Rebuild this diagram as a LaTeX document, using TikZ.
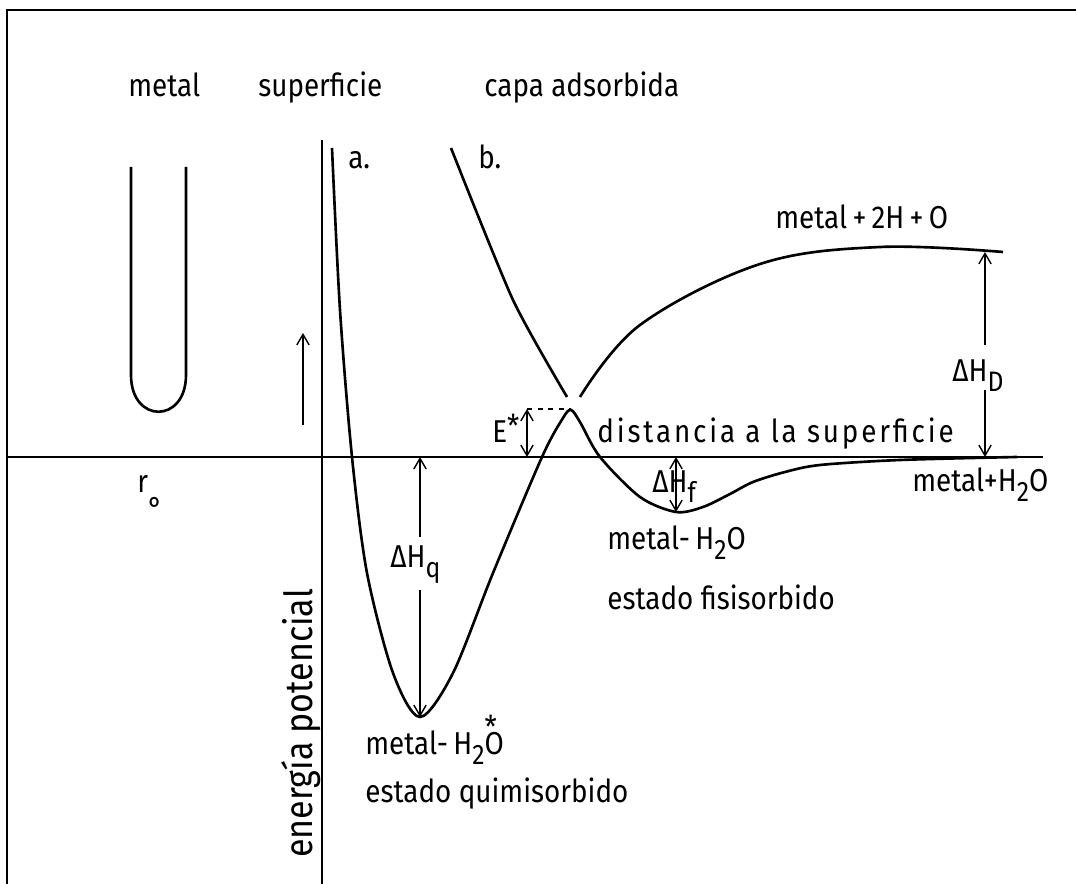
\documentclass[tikz,border=0pt]{standalone}
\usepackage{fontspec}
\setmainfont{Fira Sans}[FakeStretch=0.88]
\usetikzlibrary{arrows.meta}
\newcommand\lowsub[1]{\raisebox{-0.6ex}[0pt][0pt]{\fontsize{16}{16}\selectfont #1}}
\begin{document}
\begin{tikzpicture}[x=0.02cm,y=-0.02cm,every node/.style={inner sep=0pt,anchor=base west,font=\fontsize{18}{22}\selectfont},curve/.style={line width=1.5pt},axis/.style={line width=1.1pt},dim/.style={line width=0.8pt,>={Straight Barb[length=6pt,width=7pt]}}]
\useasboundingbox (0,0) rectangle (1076,884);
\draw[axis] (7,884) -- (7,10) -- (1076,10);
\draw[axis] (7,457) -- (1043,457);
\draw[axis] (322,140) -- (322,884);
\draw[curve] (131,167) -- (131,375) .. controls (131,424) and (186,424) .. (186,375) -- (186,167);
\draw[dim,->] (303,425) -- (303,333);
\draw[curve] plot[smooth,tension=0.5] coordinates {(332,148) (340,310) (352,457) (367,573) (393,673) (420,717) (453,673) (493,573) (542,457) (563,418) (571,410) (580,422) (600,457) (640,497) (676,512) (703,507) (730,494) (753,482) (785,472) (820,465) (900,460) (1017,457)};
\draw[curve] plot[smooth,tension=0.4] coordinates {(451,148) (513,300) (567,397)};
\draw[curve] plot[smooth,tension=0.6] coordinates {(580,397) (640,325) (760,264) (880,247) (1003,252)};
\node (metal) at (128,97) {metal};
\node (superficie) at (258,97) {superficie};
\node (capa) at (484,97) {capa adsorbida};
\node (a) at (348,169) {a.};
\node (b) at (478,169) {b.};
\node (r0) at (137,493) {r\raisebox{-15pt}[0pt][0pt]{°}};
\node[font=\fontsize{18}{22}\selectfont\addfontfeature{LetterSpace=9}] (dist) at (597,443) {distancia a la superficie};
\node (m2HO) at (775,229) {metal\,+\,2H\,+\,O};
\node (mH2O) at (912,492) {metal+H\lowsub{2}O};
\node (dHD) at (952,382) {ΔH\lowsub{D}};
\node (dHf) at (652,493) {ΔH\lowsub{f}};
\node (dHq) at (390,568) {ΔH\lowsub{q}};
\node (Estar) at (492,443) {E\raisebox{0.3ex}[0pt][0pt]{*}};
\node (fisi) at (607,550) {metal-\,H\lowsub{2}O};
\node (fisiest) at (607,610) {estado fisisorbido};
\node (quimi) at (365,755) {metal-\,H\lowsub{2}\rlap{\raisebox{1.0ex}[0pt][0pt]{*}}O};
\node (quimiest) at (365,803) {estado quimisorbido};
\node[rotate=90,font=\fontsize{22}{26}\selectfont] (energia) at (312,858) {energía potencial};
\coordinate (Dtop) at (985,252);
\coordinate (Dbot) at (985,457);
\coordinate (qtop) at (420,457);
\coordinate (qbot) at (420,717);
\coordinate (ftop) at (676,457);
\coordinate (fbot) at (676,512);
\coordinate (Etop) at (527,409);
\coordinate (Ebot) at (527,457);
\coordinate (peak) at (571,409);
\draw[dim,->] (Dtop |- 0,345) -- (Dtop);
\draw[dim,->] (Dbot |- 0,390) -- (Dbot);
\draw[dim,->] (qtop |- 0,537) -- (qtop);
\draw[dim,->] (qbot |- 0,590) -- (qbot);
\draw[dim,<->] (ftop) -- (fbot);
\draw[dim,<->] (Etop) -- (Ebot);
\draw[dim,dashed] (Etop) -- (peak);
\end{tikzpicture}
\end{document}
